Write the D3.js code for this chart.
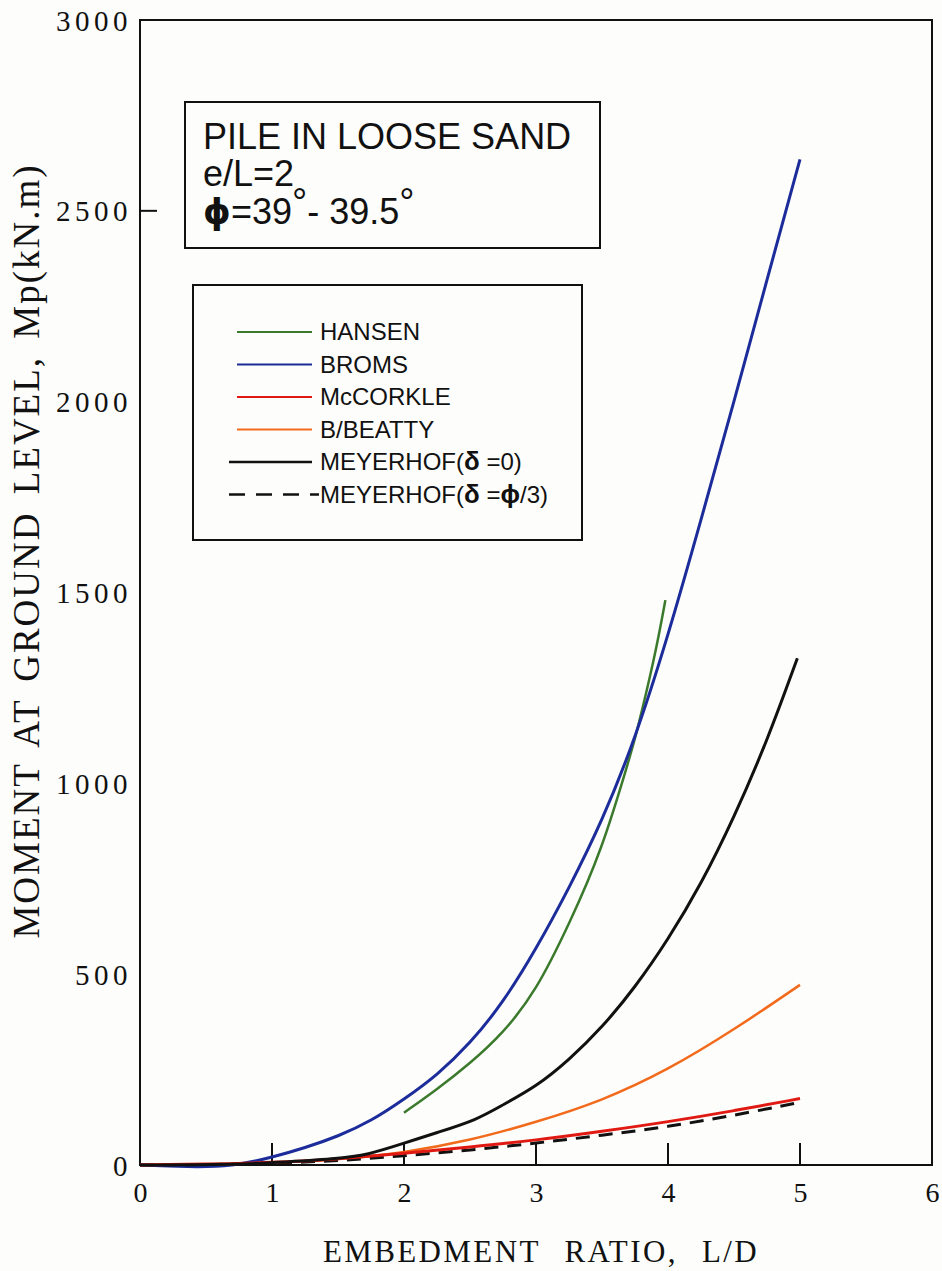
<!DOCTYPE html>
<html>
<head>
<meta charset="utf-8">
<script src="https://cdn.jsdelivr.net/npm/d3@7"></script>
<style>
body{margin:0;background:#fdfdfb;}
svg{display:block;}
</style>
</head>
<body>
<div class="canvas"></div>
<script>
// data
const seriesNames=['HANSEN','BROMS','McCORKLE','B/BEATTY','MEYERHOF(δ =0)','MEYERHOF(δ =ϕ/3)'];

const hansenX=[2,2.25,2.5,2.75,3,3.25,3.5,3.71,3.75,3.9,3.98];
const hansenY=[137,198,266,345,455,630,825,1069,1115,1330,1480];

const bromsX=[0,0.3,0.5,0.75,1,1.25,1.5,1.75,2,2.25,2.5,2.75,3,3.25,3.5,3.75,4,4.25,4.5,4.75,5];
const bromsY=[0,-4,-5,0,20,45,75,115,172,235,318,425,565,725,900,1115,1385,1690,2000,2320,2635];

const mccorkleX=[0,0.5,1,1.5,2,2.5,3,3.5,4,4.5,5];
const mccorkleY=[0,2,6,16,30,47,65,88,113,142,174];

const beattyX=[0,0.5,1,1.5,2,2.5,3,3.5,4,4.5,5];
const beattyY=[0,2,5,14,32,64,112,168,249,354,472];

const meyer0X=[0,0.75,1,1.5,1.72,2,2.25,2.55,2.75,3,3.25,3.5,3.75,4,4.25,4.5,4.75,4.98];
const meyer0Y=[0,1,6,17,26,57,85,118,158,205,275,360,465,590,735,910,1110,1328];

const meyer3X=[0,0.5,1,1.5,2,2.5,3,3.5,4,4.5,5];
const meyer3Y=[0,1,4,11,24,39,57,78,100,130,164];

const xTicks=[0,1,2,3,4,5,6];
const yTicks=[0,500,1000,1500,2000,2500,3000];

const colors=['#3b7a2c','#1c2c9a','#e01a12','#f26a1b','#111','#111'];

const W=942,H=1271;
const margin={left:140,top:20,right:10,bottom:106};
const gw=932-margin.left, gh=1165-margin.top;

const svg=d3.select('.canvas').append('svg')
.attr('width',W)
.attr('height',H);

const graph=svg.append('g')
.attr('transform',`translate(${margin.left},${margin.top})`);

const x=d3.scaleLinear().domain([0,6]).range([0,gw]);
const y=d3.scaleLinear().domain([0,3000]).range([gh,0]);

const serif='"Liberation Serif","Times New Roman",serif';
const sans='"Liberation Sans",Arial,Helvetica,sans-serif';

// frame
graph.append('rect')
.attr('width',gw).attr('height',gh)
.attr('fill','none').attr('stroke','#111').attr('stroke-width',2);

// x axis, ticks pointing in
const xAxisGroup=graph.append('g').attr('transform',`translate(0,${gh})`)
.call(d3.axisBottom(x).tickValues(xTicks).tickFormat(d3.format('d')).tickSize(0).tickPadding(0));
xAxisGroup.select('.domain').remove();
xAxisGroup.selectAll('text')
.attr('y',37).attr('dy',0)
.style('font-family',serif)
.style('font-size','28px').attr('fill','#111');
graph.append('g').selectAll('line').data(xTicks.filter(d=>d>0&&d<6)).enter().append('line')
.attr('x1',d=>x(d)).attr('x2',d=>x(d))
.attr('y1',gh).attr('y2',gh-22)
.attr('stroke','#111').attr('stroke-width',2);

// y axis
const yAxisGroup=graph.append('g')
.call(d3.axisLeft(y).tickValues(yTicks).tickFormat(d3.format('d')).tickSize(0).tickPadding(8));
yAxisGroup.select('.domain').remove();
yAxisGroup.selectAll('text')
.attr('dy','0.35em')
.style('font-family',serif)
.style('font-size','29px').style('letter-spacing','4.5px').attr('fill','#111');
graph.append('line')
.attr('x1',0).attr('x2',17).attr('y1',y(2500)).attr('y2',y(2500))
.attr('stroke','#111').attr('stroke-width',2);

// axis titles
svg.append('text')
.attr('x',541).attr('y',1262)
.attr('text-anchor','middle')
.style('font-family',serif)
.style('font-size','31px').style('letter-spacing','2.4px').style('word-spacing','14px')
.attr('fill','#111')
.text('EMBEDMENT RATIO, L/D');

svg.append('text')
.attr('transform','translate(39,551) rotate(-90)')
.attr('text-anchor','middle')
.style('font-family',serif)
.style('font-size','37px').style('letter-spacing','2px').style('word-spacing','6px')
.attr('fill','#111')
.text('MOMENT AT GROUND LEVEL, Mp(kN.m)');

// curves
const line=d3.line().x(d=>x(d[0])).y(d=>y(d[1])).curve(d3.curveBasis);
const series=[
  {xs:hansenX,ys:hansenY,c:0,w:2.5,dash:null},
  {xs:bromsX,ys:bromsY,c:1,w:3,dash:null},
  {xs:beattyX,ys:beattyY,c:3,w:2.5,dash:null},
  {xs:meyer3X,ys:meyer3Y,c:5,w:3,dash:'14,9'},
  {xs:mccorkleX,ys:mccorkleY,c:2,w:3,dash:null},
  {xs:meyer0X,ys:meyer0Y,c:4,w:3,dash:null}
];
graph.selectAll('path.curve').data(series).enter().append('path')
.attr('class','curve')
.attr('d',d=>line(d.xs.map((v,i)=>[v,d.ys[i]])))
.attr('fill','none')
.attr('stroke',d=>colors[d.c])
.attr('stroke-width',d=>d.w)
.attr('stroke-dasharray',d=>d.dash);

// annotation box
svg.append('rect')
.attr('x',185).attr('y',102).attr('width',415).attr('height',146)
.attr('fill','none').attr('stroke','#111').attr('stroke-width',2);
const note=svg.append('g').style('font-family',sans).style('font-size','36px').attr('fill','#111');
note.append('text').attr('x',203).attr('y',149).text('PILE IN LOOSE SAND');
note.append('text').attr('x',203).attr('y',186).text('e/L=2');
const t3=note.append('text').attr('x',203).attr('y',224);
t3.append('tspan').style('font-weight','bold').style('font-family','"DejaVu Sans",sans-serif').style('font-size','35px').text('ϕ');
t3.append('tspan').text('=39');
t3.append('tspan').attr('dy',-9).style('font-size','38px').text('°');
t3.append('tspan').attr('dy',9).text('- 39.5');
t3.append('tspan').attr('dy',-9).style('font-size','38px').text('°');

// legend
svg.append('rect')
.attr('x',193).attr('y',285).attr('width',389).attr('height',255)
.attr('fill','none').attr('stroke','#111').attr('stroke-width',2);
const legend=svg.append('g');
const rows=legend.selectAll('g').data(seriesNames).enter().append('g')
.attr('transform',(d,i)=>`translate(0,${332+i*32.5})`);
rows.append('line')
.attr('x1',(d,i)=>i>=4?229:237).attr('x2',(d,i)=>i==5?319:312)
.attr('stroke',(d,i)=>colors[i])
.attr('stroke-width',(d,i)=>i>=4?2.5:2)
.attr('stroke-dasharray',(d,i)=>i==5?'16,11':null);
rows.append('text')
.attr('x',320).attr('dy','0.35em')
.style('font-family',sans).style('font-size','24px').attr('fill','#111')
.each(function(d){
  // greek letters drawn bold, as in the original
  const t=d3.select(this);
  d.split(/([δϕ])/).filter(s=>s.length).forEach(s=>{
    const sp=t.append('tspan').text(s);
    if(s==='δ'||s==='ϕ') sp.style('font-weight','bold').style('font-size','26px');
  });
});
</script>
</body>
</html>
